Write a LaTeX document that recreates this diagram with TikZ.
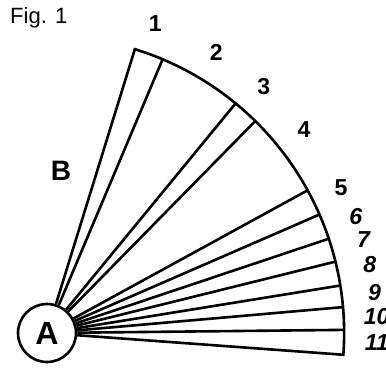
\documentclass[tikz,border=0pt]{standalone}
\usepackage{fontspec}
\setmainfont{Liberation Sans}
\begin{document}
\begin{tikzpicture}[line width=2.6pt,every node/.style={font=\fontsize{23}{23}\selectfont\bfseries}]
\useasboundingbox (-1.645,-1.19) rectangle (11.865,11.655);
\node[font=\fontsize{22}{22}\selectfont,anchor=west] (fig) at (-1.45,11.03) {Fig. 1};
\node[draw,circle,minimum size=2.03cm,inner sep=0pt,font=\fontsize{32}{32}\selectfont\bfseries] (A) at (0,0) {A};
\node[font=\fontsize{28}{28}\selectfont\bfseries] (B) at (0.49,5.67) {B};
% outer edge of the fan
\coordinate (top) at (72.8:10.4);
\coordinate (bot) at (-4.2:10.4);
\draw (A) -- (top) arc (72.8:-4.2:10.4) -- (A);
% rays
\foreach \a [count=\i] in {67.1,50.6,45.5,28.7,23.5,18.5,13.9,9.2,5.0,0.6} {
  \coordinate (r\i) at (\a:10.4);
  \draw (A) -- (r\i);
}
% sector numbers
\foreach \t/\a in {1/70.7,2/58.9,3/48.6,4/38.4,5/26.3}
  \node (n\t) at (\a:11.48) {\t};
\foreach \t/\a in {6/20.6,7/16.4,8/12.0,9/7.0,10/2.8,11/-1.7}
  \node[font=\fontsize{23}{23}\selectfont\bfseries\itshape] (n\t) at (\a:11.55) {\t};
\end{tikzpicture}
\end{document}
